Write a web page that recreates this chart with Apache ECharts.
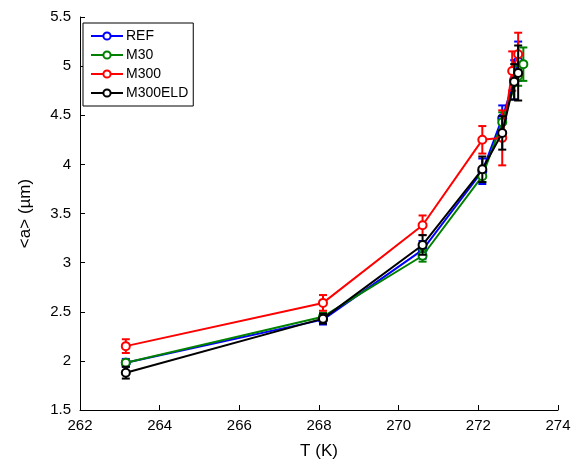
<!DOCTYPE html>
<html>
<head>
<meta charset="utf-8">
<script src="https://cdn.jsdelivr.net/npm/echarts@6/dist/echarts.min.js"></script>
<style>
  html, body { margin: 0; padding: 0; background: #fff; }
  #chart { width: 580px; height: 471px; }
</style>
</head>
<body>
<div id="chart"></div>
<script>
// values: temperature (K), mean size (um), error (um)
const refT   = [263.15, 268.1, 270.6, 272.1, 272.6, 272.9, 273.0];
const refA   = [1.98, 2.42, 3.13, 3.93, 4.47, 4.86, 5.05];
const refErr = [0.04, 0.05, 0.09, 0.13, 0.13, 0.2, 0.2];

const m30T   = [263.15, 268.1, 270.6, 272.1, 272.6, 273.0, 273.13];
const m30A   = [1.98, 2.45, 3.07, 3.88, 4.43, 4.9, 5.02];
const m30Err = [0.03, 0.04, 0.06, 0.06, 0.1, 0.1, 0.17];

const m300T   = [263.15, 268.1, 270.6, 272.1, 272.6, 272.85, 273.0];
const m300A   = [2.15, 2.59, 3.38, 4.25, 4.27, 4.95, 5.12];
const m300Err = [0.07, 0.08, 0.1, 0.14, 0.28, 0.2, 0.22];

const eldT   = [263.15, 268.1, 270.6, 272.1, 272.6, 272.9, 273.0];
const eldA   = [1.88, 2.43, 3.18, 3.95, 4.32, 4.84, 4.93];
const eldErr = [0.06, 0.05, 0.1, 0.13, 0.17, 0.18, 0.28];

const xTicks = { min: 262, max: 274, step: 2 };
const yTicks = { min: 1.5, max: 5.5, step: 0.5 };

const groups = [
  { name: 'REF', color: '#0000ff', t: refT, a: refA, e: refErr },
  { name: 'M30', color: '#008000', t: m30T, a: m30A, e: m30Err },
  { name: 'M300', color: '#ff0000', t: m300T, a: m300A, e: m300Err },
  { name: 'M300ELD', color: '#000000', t: eldT, a: eldA, e: eldErr }
];

function errorBars(color) {
  return function (params, api) {
    const x = api.value(0);
    const lo = api.coord([x, api.value(1)]);
    const hi = api.coord([x, api.value(2)]);
    const hw = 4;
    const style = { stroke: color, lineWidth: 2, fill: null };
    return {
      type: 'group',
      children: [
        { type: 'line', shape: { x1: lo[0], y1: lo[1], x2: hi[0], y2: hi[1] }, style: style },
        { type: 'line', shape: { x1: lo[0] - hw, y1: lo[1], x2: lo[0] + hw, y2: lo[1] }, style: style },
        { type: 'line', shape: { x1: hi[0] - hw, y1: hi[1], x2: hi[0] + hw, y2: hi[1] }, style: style }
      ]
    };
  };
}

const lineSeries = [];
const barSeries = [];
groups.forEach(function (g, k) {
  lineSeries.push({
    name: g.name,
    type: 'line',
    data: g.t.map(function (t, i) { return [t, g.a[i]]; }),
    symbol: 'emptyCircle',
    symbolSize: 8,
    color: g.color,
    lineStyle: { width: 2, color: g.color },
    itemStyle: { color: g.color, borderColor: g.color, borderWidth: 2 },
    z: 3 + k * 2,
    animation: false
  });
  barSeries.push({
    name: g.name,
    type: 'custom',
    renderItem: errorBars(g.color),
    itemStyle: { color: g.color },
    data: g.t.map(function (t, i) { return [t, g.a[i] - g.e[i], g.a[i] + g.e[i]]; }),
    encode: { x: 0, y: [1, 2] },
    z: 2 + k * 2,
    silent: true
  });
});

const font = 'Liberation Sans, Arial, Helvetica, sans-serif';
const chart = echarts.init(document.getElementById('chart'));
chart.setOption({
  animation: false,
  textStyle: { fontFamily: font, color: '#000' },
  grid: { left: 80, right: 22, top: 17, bottom: 61 },
  legend: {
    data: groups.map(function (g) { return g.name; }),
    orient: 'vertical',
    left: 83,
    top: 23,
    padding: [6, 5, 6, 7],
    itemGap: 5,
    itemWidth: 32,
    itemHeight: 9,
    backgroundColor: '#fff',
    borderColor: '#000',
    borderWidth: 1,
    borderRadius: 0,
    textStyle: { fontFamily: font, fontSize: 14, lineHeight: 14, color: '#000', padding: [0, 0, 0, -2] }
  },
  xAxis: {
    type: 'value',
    min: xTicks.min,
    max: xTicks.max,
    interval: xTicks.step,
    name: 'T (K)',
    nameLocation: 'middle',
    nameGap: 33,
    nameTextStyle: { fontSize: 17, color: '#000', fontFamily: font },
    axisLine: { lineStyle: { color: '#000', width: 1 } },
    axisTick: { inside: true, length: 5, lineStyle: { color: '#000' } },
    axisLabel: { fontSize: 15, color: '#000', margin: 8, fontFamily: font },
    splitLine: { show: false }
  },
  yAxis: {
    type: 'value',
    min: yTicks.min,
    max: yTicks.max,
    interval: yTicks.step,
    name: '<a> (\u00b5m)',
    nameLocation: 'middle',
    nameGap: 46,
    nameTextStyle: { fontSize: 17, color: '#000', fontFamily: font },
    axisLine: { show: true, lineStyle: { color: '#000', width: 1 } },
    axisTick: { show: true, inside: true, length: 5, lineStyle: { color: '#000' } },
    axisLabel: { fontSize: 15, color: '#000', margin: 9, fontFamily: font },
    splitLine: { show: false }
  },
  series: lineSeries.concat(barSeries)
});
</script>
</body>
</html>
